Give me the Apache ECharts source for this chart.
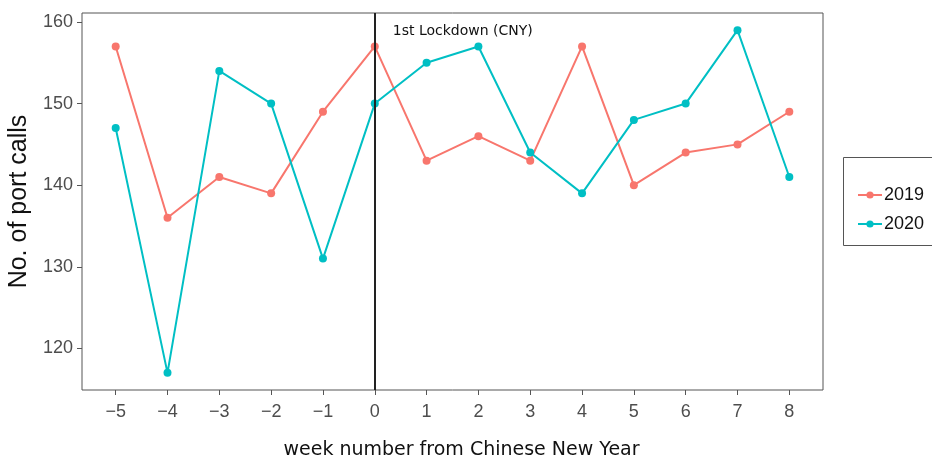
<!DOCTYPE html>
<html>
<head>
<meta charset="utf-8">
<script src="https://cdn.jsdelivr.net/npm/echarts@6/dist/echarts.min.js"></script>
<style>
  html, body { margin: 0; padding: 0; background: #fff; }
  #chart { width: 932px; height: 459px; }
</style>
</head>
<body>
<div id="chart"></div>
<script>
// Weeks relative to Chinese New Year
const weeks = [-5, -4, -3, -2, -1, 0, 1, 2, 3, 4, 5, 6, 7, 8];
// Weekly port calls
const calls2019 = [157, 136, 141, 139, 149, 157, 143, 146, 143, 157, 140, 144, 145, 149];
const calls2020 = [147, 117, 154, 150, 131, 150, 155, 157, 144, 139, 148, 150, 159, 141];
const yTicks = [120, 130, 140, 150, 160];
const lockdownWeek = 0;
const lockdownText = '1st Lockdown (CNY)';

const pair = (xs, ys) => xs.map((x, i) => [x, ys[i]]);
const fmtMinus = v => (v < 0 ? '\u2212' + Math.abs(v) : String(v));

const chart = echarts.init(document.getElementById('chart'));
chart.setOption({
  animation: false,
  backgroundColor: '#fff',
  grid: {
    left: 82, right: 109, top: 13, bottom: 69,
    outerBoundsMode: 'none',
    containLabel: false,
    show: true, borderColor: '#555', borderWidth: 1, backgroundColor: 'transparent'
  },
  xAxis: {
    type: 'value',
    min: -5.65, max: 8.65,
    name: 'week number from Chinese New Year',
    nameLocation: 'middle',
    nameGap: 51,
    nameTextStyle: { fontFamily: 'DejaVu Sans', fontSize: 19, color: '#111', padding: [0, 0, 0, 18] },
    splitLine: { show: false },
    axisLine: { show: false, onZero: false },
    axisTick: { show: true, inside: false, customValues: weeks, length: 5, lineStyle: { color: '#555' } },
    axisLabel: {
      customValues: weeks, formatter: fmtMinus, margin: 13,
      fontFamily: 'Liberation Sans', fontSize: 18, color: '#4d4d4d'
    }
  },
  yAxis: {
    type: 'value',
    min: 114.9, max: 161.1,
    name: 'No. of port calls',
    nameLocation: 'middle',
    nameGap: 45,
    nameTextStyle: { fontFamily: 'Liberation Sans', fontSize: 25, color: '#111' },
    splitLine: { show: false },
    axisLine: { show: false, onZero: false },
    axisTick: { show: true, inside: false, customValues: yTicks, length: 5, lineStyle: { color: '#555' } },
    axisLabel: {
      customValues: yTicks, margin: 9,
      fontFamily: 'Liberation Sans', fontSize: 18, color: '#4d4d4d'
    }
  },
  legend: {
    left: 852, top: 181,
    orient: 'vertical',
    itemWidth: 24, itemHeight: 9, itemGap: 11,
    textStyle: { fontFamily: 'Liberation Sans', fontSize: 18, color: '#111', padding: [0, 0, 0, -3] },
    data: ['2019', '2020']
  },
  graphic: [{
    type: 'rect',
    shape: { x: 843.5, y: 157.5, width: 100, height: 88 },
    style: { fill: 'none', stroke: '#555', lineWidth: 1 }
  }],
  series: [
    {
      name: '2019', type: 'line',
      data: pair(weeks, calls2019),
      color: '#F8766D',
      symbol: 'circle', symbolSize: 8,
      lineStyle: { width: 2 },
      z: 3,
      markLine: {
        silent: true, symbol: 'none',
        lineStyle: { color: '#222', width: 2, type: 'solid' },
        label: { show: false },
        data: [{ xAxis: lockdownWeek }]
      },
      markPoint: {
        silent: true,
        symbol: 'circle', symbolSize: 0,
        data: [{ coord: [lockdownWeek, 158.8] }],
        label: {
          show: true, position: 'right', distance: 18,
          formatter: lockdownText,
          fontFamily: 'DejaVu Sans', fontSize: 14, color: '#111'
        }
      }
    },
    {
      name: '2020', type: 'line',
      data: pair(weeks, calls2020),
      color: '#00BFC4',
      symbol: 'circle', symbolSize: 8,
      lineStyle: { width: 2 },
      z: 4
    }
  ]
});
</script>
</body>
</html>
